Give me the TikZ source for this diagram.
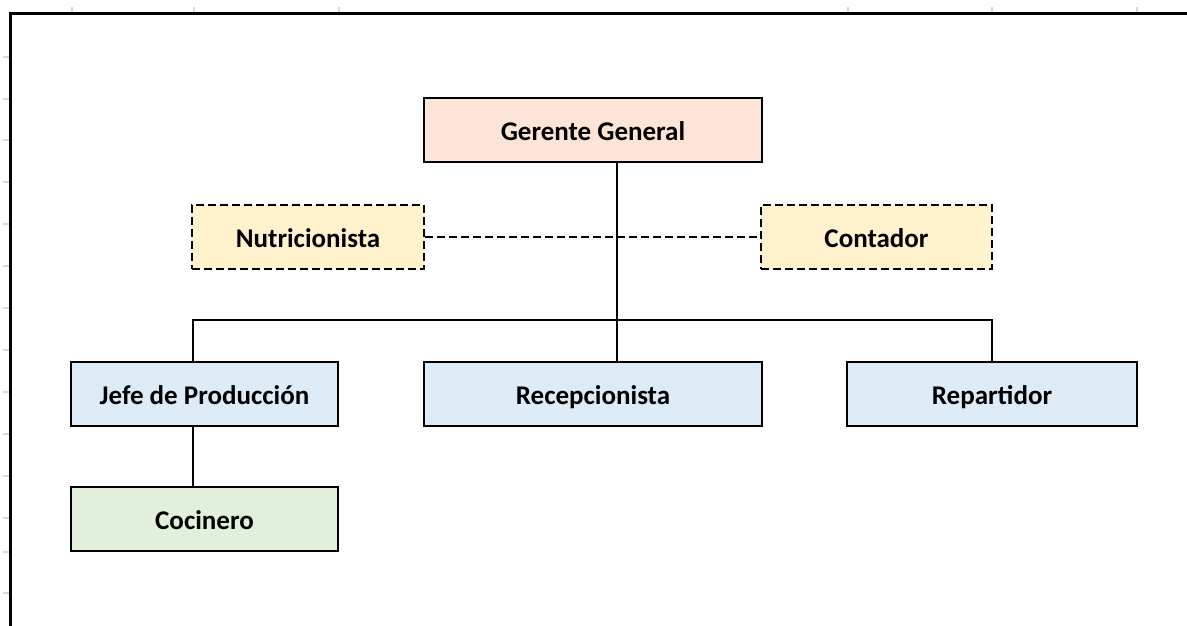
\documentclass[tikz,border=0pt]{standalone}
\usepackage{fontspec}
\setmainfont{Carlito}
\definecolor{peach}{HTML}{FCE4D6}
\definecolor{cream}{HTML}{FFF2CC}
\definecolor{lblue}{HTML}{DDEBF7}
\definecolor{lgreen}{HTML}{E2EFDA}
\definecolor{tickgray}{HTML}{D9D9D9}
\tikzset{
  box/.style={draw=black, line width=2.5pt, rectangle, inner sep=0pt,
    font=\fontsize{27}{30}\selectfont\bfseries, text=black,
    text height=20pt, text depth=0pt},
  dbox/.style={box, dash pattern=on 8pt off 4pt},
  conn/.style={draw=black, line width=2.5pt},
  dconn/.style={conn, dash pattern=on 8pt off 4pt},
  gridtick/.style={draw=tickgray, line width=1.2pt}
}
\begin{document}
\begin{tikzpicture}[x=1pt,y=-1pt]
\useasboundingbox (0,0) rectangle (1187,626);
\fill[white] (0,0) rectangle (1187,626);
% faint spreadsheet grid ticks
\foreach \x in {72,194,339,848,992,1137} \draw[gridtick] (\x,7) -- (\x,14);
\foreach \y in {57,99,140,182,224,266,308,350,392,434,476,518,552,593} \draw[gridtick] (3,\y) -- (10,\y);
% frame
\draw[line width=3pt] (10,626) -- (10,14) -- (1187,14);
% nodes
\node[box, fill=peach, minimum width=338pt, minimum height=64pt] (gg) at (593,130) {Gerente General};
\node[dbox, fill=cream, minimum width=232pt, minimum height=64pt] (nut) at (308,237) {Nutricionista};
\node[dbox, fill=cream, minimum width=231pt, minimum height=64pt] (con) at (876.5,237) {Contador};
\node[box, fill=lblue, minimum width=267pt, minimum height=64pt] (jefe) at (204.5,394) {Jefe de Producción};
\node[box, fill=lblue, minimum width=338pt, minimum height=64pt] (rec) at (593,394) {Recepcionista};
\node[box, fill=lblue, minimum width=290pt, minimum height=64pt] (rep) at (992,394) {Repartidor};
\node[box, fill=lgreen, minimum width=267pt, minimum height=64pt] (coc) at (204.5,519) {Cocinero};
% connectors
\coordinate (bus) at (617,320);
\draw[conn] (gg.south -| bus) -- (rec.north -| bus);
\draw[dconn] (nut.east) -- (con.west);
\draw[conn] (jefe.north -| 193,0) -- (193,320) -- (992,320) -- (rep.north);
\draw[conn] (jefe.south -| 193,0) -- (coc.north -| 193,0);
\end{tikzpicture}
\end{document}
